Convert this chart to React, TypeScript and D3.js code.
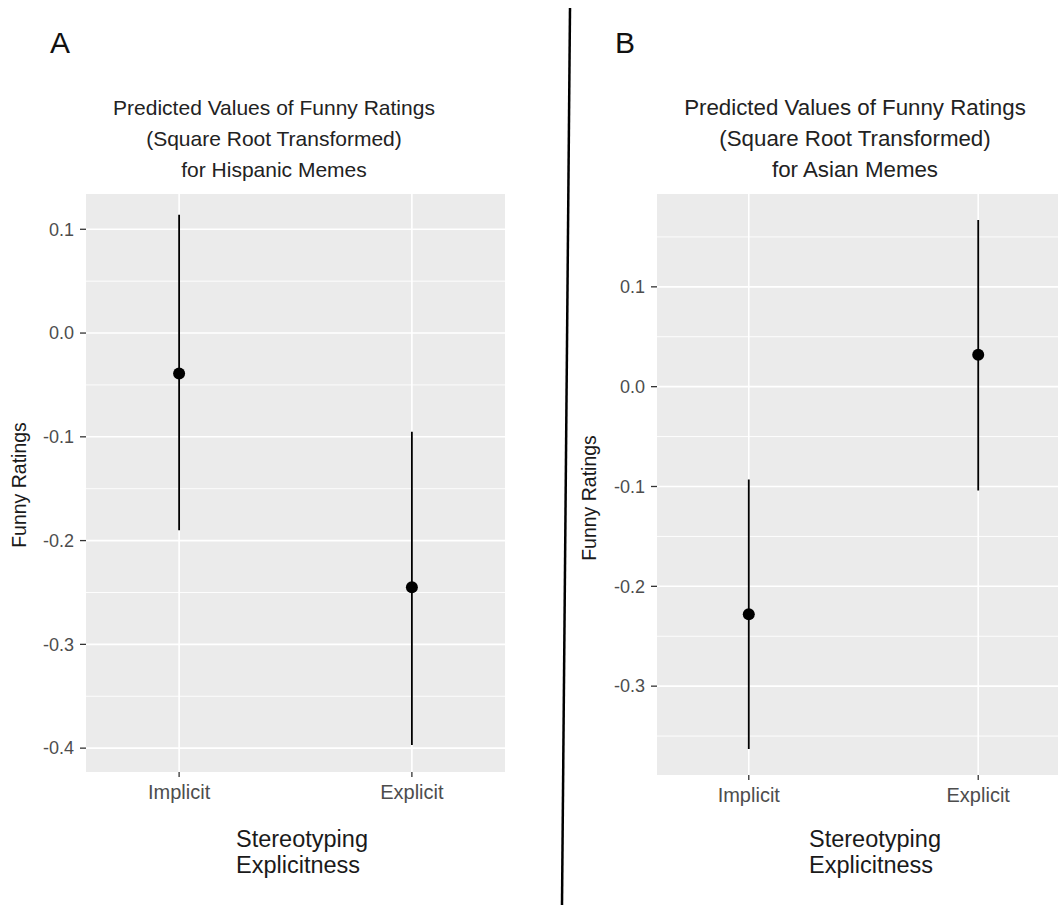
import React from "react";
import * as d3 from "d3";

// categories on the x axis
const categories = ["Implicit", "Explicit"];

// panel A: Hispanic memes
const hispanicFit = [-0.039, -0.245];
const hispanicLow = [-0.19, -0.397];
const hispanicHigh = [0.114, -0.095];
const hispanicTicks = [-0.4, -0.3, -0.2, -0.1, 0.0, 0.1];
const hispanicMinor = [-0.35, -0.25, -0.15, -0.05, 0.05];

// panel B: Asian memes
const asianFit = [-0.228, 0.032];
const asianLow = [-0.363, -0.104];
const asianHigh = [-0.093, 0.167];
const asianTicks = [-0.3, -0.2, -0.1, 0.0, 0.1];
const asianMinor = [-0.35, -0.25, -0.15, -0.05, 0.05, 0.15];

const titleLines = (group: string) => [
  "Predicted Values of Funny Ratings",
  "(Square Root Transformed)",
  `for ${group} Memes`,
];

const FONT = "'Liberation Sans', Arial, sans-serif";

// plain hyphen for negatives, like the R output
const fmt = (v: number) => d3.format(".1f")(v).replace("\u2212", "-");

type PanelProps = {
  letter: string;
  letterX: number;
  group: string;
  titleX: number;
  titleSize: number;
  fit: number[];
  low: number[];
  high: number[];
  ticks: number[];
  minor: number[];
  domain: [number, number];
  xRange: [number, number];
  yRange: [number, number];
  tickLabelBaseline: number;
  yTitleX: number;
  yTitleY: number;
  xTitleX: number;
};

function Panel(p: PanelProps) {
  const x = d3.scalePoint<string>().domain(categories).range(p.xRange).padding(0.4);
  const y = d3.scaleLinear().domain(p.domain).range(p.yRange);
  const [x0, x1] = p.xRange;
  const [yb, yt] = p.yRange;

  return (
    <g>
      <text x={p.letterX} y={53} fontFamily={FONT} fontSize={30} fill="#111">
        {p.letter}
      </text>
      {titleLines(p.group).map((t, i) => (
        <text
          key={i}
          x={p.titleX}
          y={115 + i * 31}
          textAnchor="middle"
          fontFamily={FONT}
          fontSize={p.titleSize}
          fill="#222"
        >
          {t}
        </text>
      ))}

      {/* panel background and grid */}
      <rect x={x0} y={yt} width={x1 - x0} height={yb - yt} fill="#ebebeb" />
      {p.minor.map((v) => (
        <line key={"m" + v} x1={x0} x2={x1} y1={y(v)} y2={y(v)} stroke="#fff" strokeWidth={0.9} />
      ))}
      {p.ticks.map((v) => (
        <line key={"g" + v} x1={x0} x2={x1} y1={y(v)} y2={y(v)} stroke="#fff" strokeWidth={1.6} />
      ))}
      {categories.map((c) => (
        <line key={"v" + c} x1={x(c)} x2={x(c)} y1={yt} y2={yb} stroke="#fff" strokeWidth={1.6} />
      ))}

      {/* y axis */}
      {p.ticks.map((v) => (
        <g key={"t" + v}>
          <line x1={x0 - 6} x2={x0} y1={y(v)} y2={y(v)} stroke="#333" strokeWidth={1.3} />
          <text
            x={x0 - 12}
            y={y(v)}
            dy="0.35em"
            textAnchor="end"
            fontFamily={FONT}
            fontSize={18}
            fill="#4d4d4d"
          >
            {fmt(v)}
          </text>
        </g>
      ))}
      <text
        transform={`translate(${p.yTitleX},${p.yTitleY}) rotate(-90)`}
        textAnchor="middle"
        fontFamily={FONT}
        fontSize={19.5}
        fill="#1a1a1a"
      >
        Funny Ratings
      </text>

      {/* x axis */}
      {categories.map((c) => (
        <g key={"xt" + c}>
          <line x1={x(c)} x2={x(c)} y1={yb} y2={yb + 5} stroke="#333" strokeWidth={1.3} />
          <text
            x={x(c)}
            y={p.tickLabelBaseline}
            textAnchor="middle"
            fontFamily={FONT}
            fontSize={20}
            fill="#4d4d4d"
          >
            {c}
          </text>
        </g>
      ))}
      {["Stereotyping", "Explicitness"].map((t, i) => (
        <text
          key={t}
          x={p.xTitleX}
          y={847 + i * 26}
          fontFamily={FONT}
          fontSize={23.5}
          fill="#1a1a1a"
        >
          {t}
        </text>
      ))}

      {/* error bars and points */}
      {categories.map((c, i) => (
        <g key={"d" + c}>
          <line
            x1={x(c)}
            x2={x(c)}
            y1={y(p.low[i])}
            y2={y(p.high[i])}
            stroke="#000"
            strokeWidth={1.8}
          />
          <circle cx={x(c)} cy={y(p.fit[i])} r={6} fill="#000" />
        </g>
      ))}
    </g>
  );
}

export default function App() {
  return (
    <svg
      width={1058}
      height={905}
      style={{ position: "absolute", left: 0, top: 0, background: "#fff" }}
    >
      <rect width={1058} height={905} fill="#fff" />
      <Panel
        letter="A"
        letterX={50}
        group="Hispanic"
        titleX={274}
        titleSize={21}
        fit={hispanicFit}
        low={hispanicLow}
        high={hispanicHigh}
        ticks={hispanicTicks}
        minor={hispanicMinor}
        domain={[-0.423, 0.134]}
        xRange={[86, 505]}
        yRange={[772, 194]}
        tickLabelBaseline={799}
        yTitleX={26}
        yTitleY={485}
        xTitleX={236}
      />
      <Panel
        letter="B"
        letterX={615}
        group="Asian"
        titleX={855}
        titleSize={22.3}
        fit={asianFit}
        low={asianLow}
        high={asianHigh}
        ticks={asianTicks}
        minor={asianMinor}
        domain={[-0.389, 0.193]}
        xRange={[657, 1070]}
        yRange={[775, 194]}
        tickLabelBaseline={802}
        yTitleX={596}
        yTitleY={498}
        xTitleX={809}
      />
      <line x1={570} y1={8} x2={562} y2={905} stroke="#000" strokeWidth={2.5} />
    </svg>
  );
}
